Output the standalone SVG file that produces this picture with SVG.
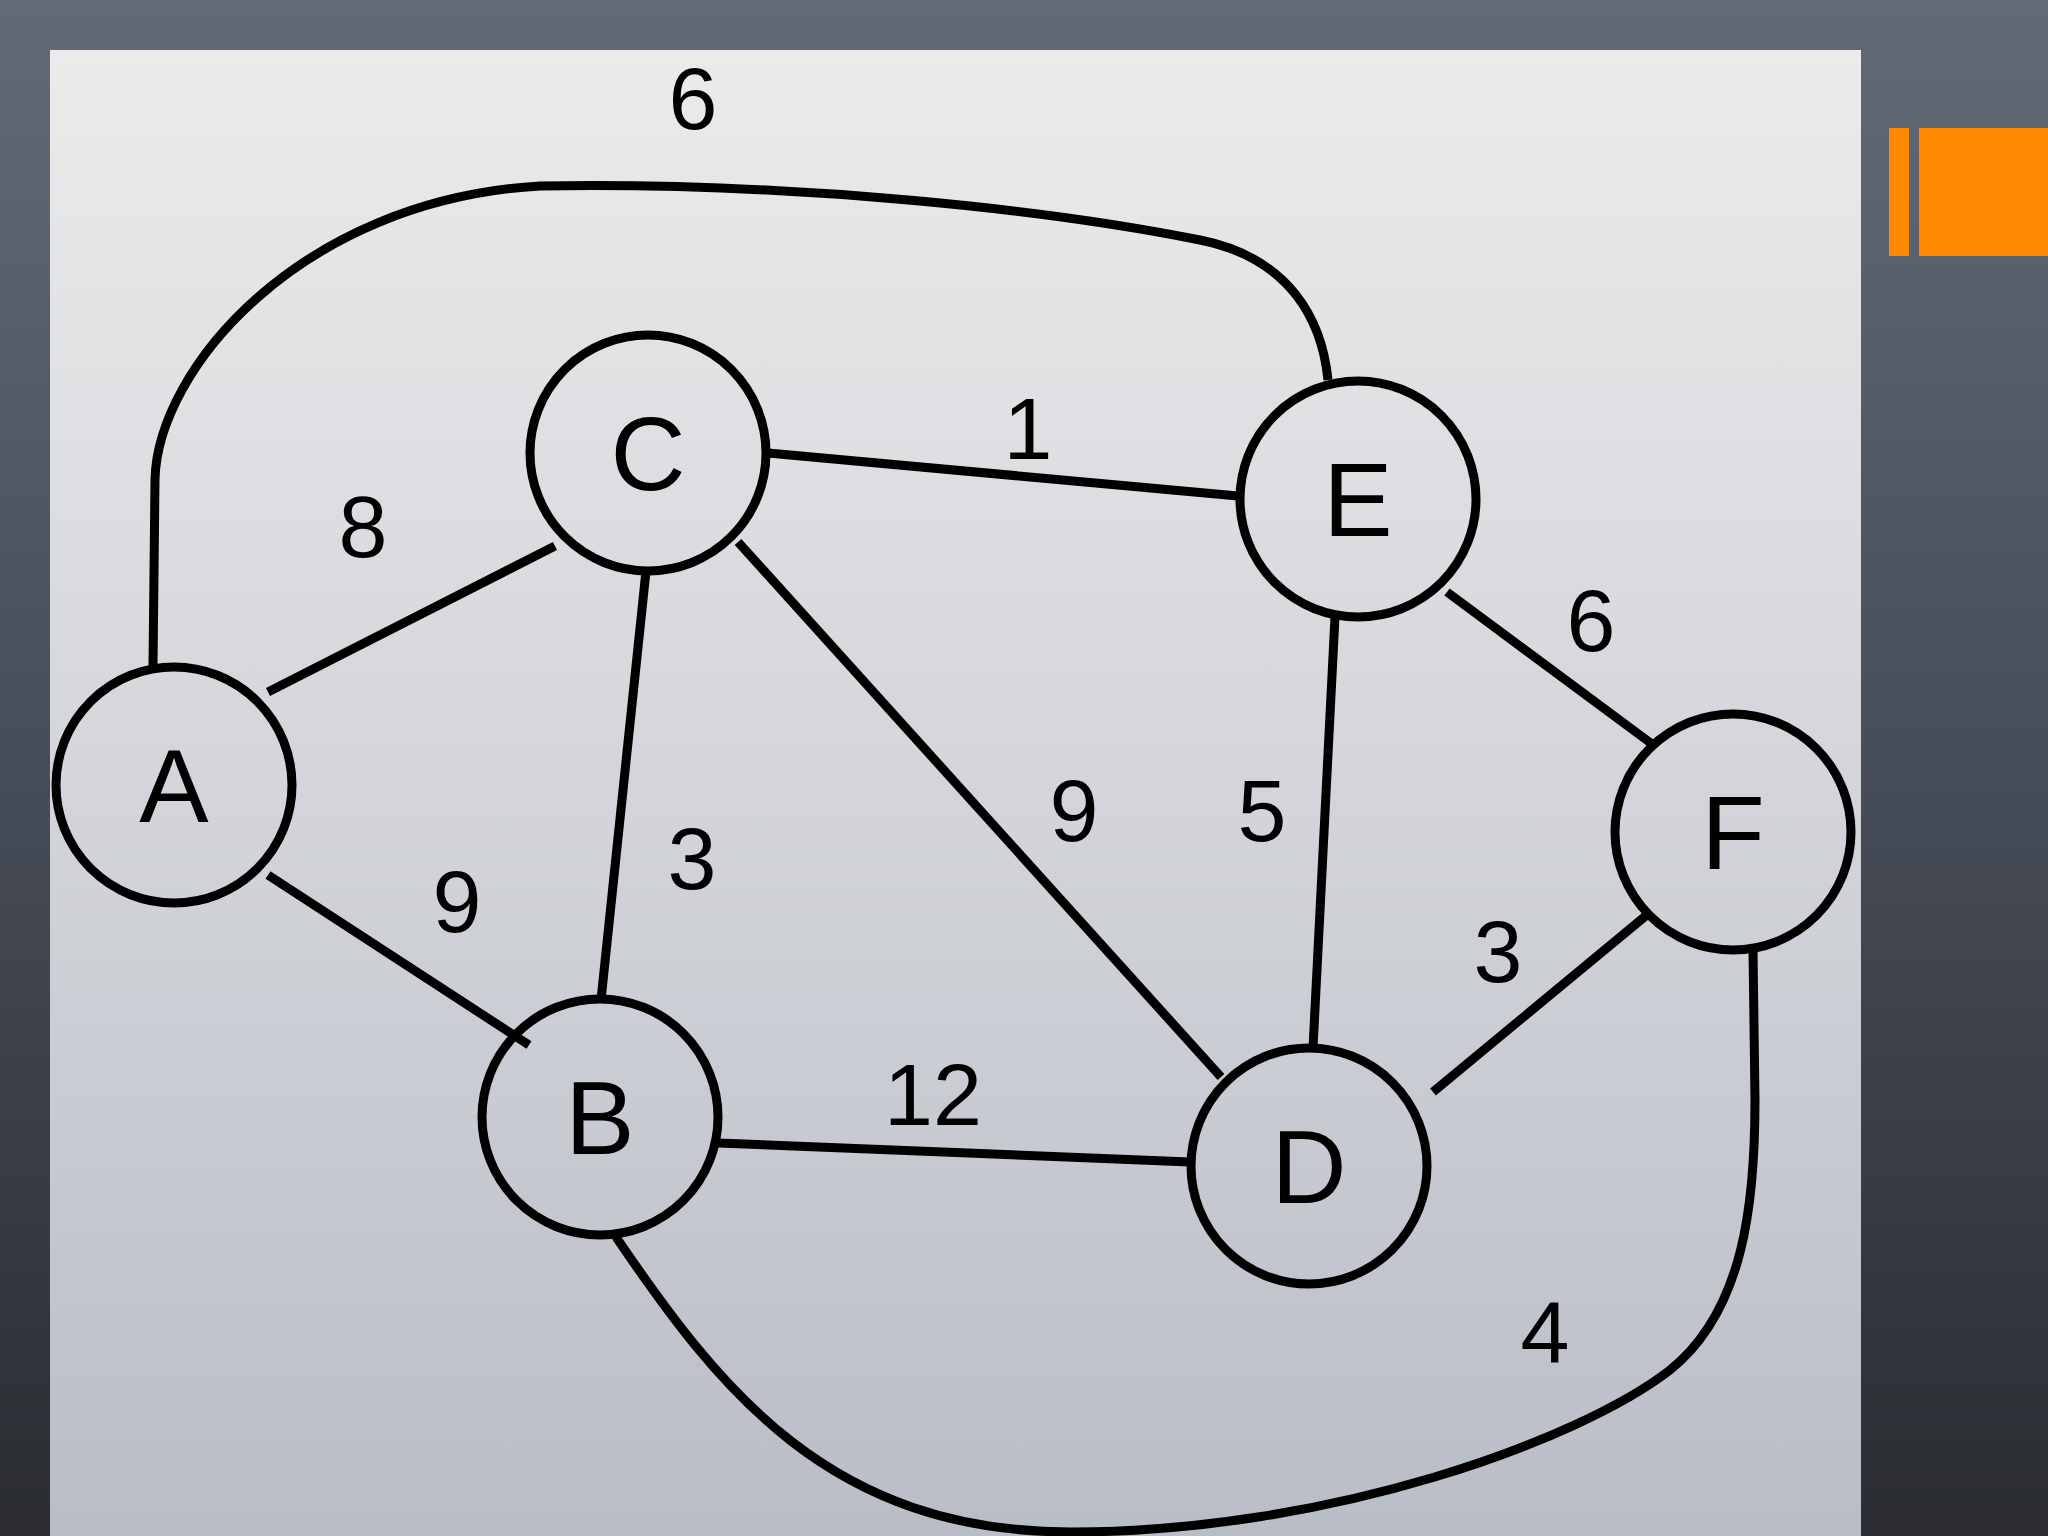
<svg xmlns="http://www.w3.org/2000/svg" width="2048" height="1536" viewBox="0 0 2048 1536">
<defs>
<linearGradient id="bg" x1="0" y1="0" x2="0" y2="1">
<stop offset="0" stop-color="#636a77"/>
<stop offset="0.5" stop-color="#474d57"/>
<stop offset="1" stop-color="#2a2c31"/>
</linearGradient>
<linearGradient id="panel" x1="0" y1="0" x2="0" y2="1">
<stop offset="0" stop-color="#ebebeb"/>
<stop offset="0.5" stop-color="#d3d5da"/>
<stop offset="1" stop-color="#b9bdc6"/>
</linearGradient>
<style>
.edge{fill:none;stroke:#000;stroke-width:9;stroke-linecap:butt}
.node circle{fill:none;stroke:#000;stroke-width:9}
.node text{font-family:"Liberation Sans",Arial,sans-serif;font-size:104px;fill:#000;text-anchor:middle}
.w{font-family:"Liberation Sans",Arial,sans-serif;font-size:88px;fill:#000;text-anchor:middle}
</style>
</defs>
<rect x="0" y="0" width="2048" height="1536" fill="url(#bg)"/>
<rect x="50" y="50" width="1811" height="1486" fill="url(#panel)"/>
<rect x="1889" y="128" width="20" height="128" fill="#ff8a00"/>
<rect x="1919" y="128" width="129" height="128" fill="#ff8a00"/>
<g id="connectors">
<path class="edge" d="M153,666 L155,480 C157,370 300,200 540,186 C800,182 1050,210 1200,240 C1290,258 1322,320 1328,380"/>
<line class="edge" x1="268" y1="692" x2="555" y2="546"/>
<line class="edge" x1="268" y1="875" x2="529" y2="1045"/>
<line class="edge" x1="646" y1="571" x2="601" y2="1000"/>
<line class="edge" x1="768" y1="453" x2="1238" y2="496"/>
<line class="edge" x1="738" y1="542" x2="1221" y2="1077"/>
<line class="edge" x1="1335" y1="617" x2="1313" y2="1048"/>
<line class="edge" x1="1447" y1="592" x2="1652" y2="744"/>
<line class="edge" x1="1433" y1="1092" x2="1648" y2="914"/>
<line class="edge" x1="718" y1="1143" x2="1190" y2="1162"/>
<path class="edge" d="M616,1237 C720,1390 830,1532 1071,1532 C1330,1532 1580,1440 1670,1370 C1745,1310 1755,1200 1755,1100 L1753,950"/>
<text class="w" x="693" y="129">6</text>
<text class="w" x="363" y="557">8</text>
<text class="w" x="1028" y="459">1</text>
<text class="w" x="1591" y="651">6</text>
<text class="w" x="457" y="932">9</text>
<text class="w" x="692" y="889">3</text>
<text class="w" x="1074" y="841">9</text>
<text class="w" x="1262" y="841">5</text>
<text class="w" x="1498" y="982">3</text>
<text class="w" x="933" y="1125">12</text>
<text class="w" x="1545" y="1363">4</text>
</g>
<g id="node-A" class="node"><circle cx="174" cy="785" r="118"/><text x="174" y="822">A</text></g>
<g id="node-C" class="node"><circle cx="648" cy="453" r="118"/><text x="648" y="490">C</text></g>
<g id="node-E" class="node"><circle cx="1358" cy="499" r="118"/><text x="1358" y="536">E</text></g>
<g id="node-F" class="node"><circle cx="1733" cy="832" r="118"/><text x="1733" y="869">F</text></g>
<g id="node-B" class="node"><circle cx="600" cy="1117" r="118"/><text x="600" y="1154">B</text></g>
<g id="node-D" class="node"><circle cx="1309" cy="1166" r="118"/><text x="1309" y="1203">D</text></g>
</svg>
